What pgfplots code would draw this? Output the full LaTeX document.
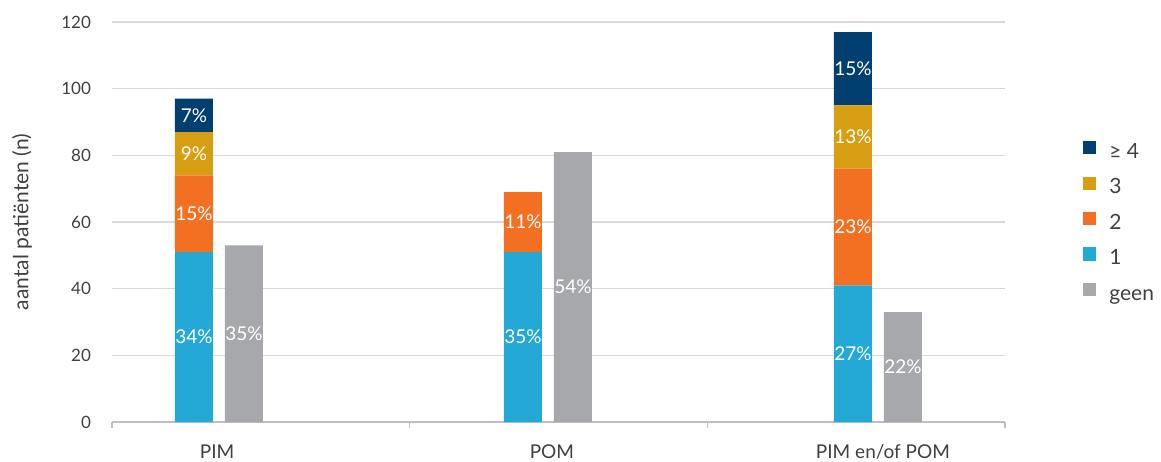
\documentclass[border=0pt]{standalone}
\usepackage{fontspec}
\setmainfont{Lato}
\usepackage{pgfplots}
\pgfplotsset{compat=1.18}

\definecolor{cfour}{HTML}{003F6F}
\definecolor{cthree}{HTML}{D89E13}
\definecolor{ctwo}{HTML}{F37022}
\definecolor{cone}{HTML}{24A9D7}
\definecolor{cgeen}{HTML}{A7A8AC}
\definecolor{gridgray}{HTML}{D9D9D9}
\definecolor{axisgray}{HTML}{BFBFBF}
\definecolor{txt}{HTML}{404040}

% bar positions: stacked bar and "geen" bar for PIM, POM, PIM en/of POM
\pgfplotstableread{
x      geen one two three four
0.2754 0    51  23  13    10
0.4434 53   0   0   0     0
1.3806 0    51  18  0     0
1.5485 81   0   0   0     0
2.4890 0    41  35  19    22
2.6570 33   0   0   0     0
}\bars

\pgfplotstableread{
x      y     lab
0.2754 25.5  34\%
0.2754 62.5  15\%
0.2754 80.5  9\%
0.2754 92.0  7\%
0.4434 26.5  35\%
1.3806 25.5  35\%
1.3806 60.0  11\%
1.5485 40.5  54\%
2.4890 20.5  27\%
2.4890 58.5  23\%
2.4890 85.5  13\%
2.4890 106.0 15\%
2.6570 16.5  22\%
}\labels

\begin{document}
\begin{tikzpicture}
\path[use as bounding box] (0pt,0pt) rectangle (580.5pt,230.5pt);
\begin{axis}[
  at={(56pt,19.5pt)}, anchor=south west,
  scale only axis, width=446.5pt, height=200pt,
  xmin=0, xmax=3, ymin=0, ymax=120,
  clip=false,
  ybar stacked, bar width=19pt,
  axis x line*=bottom, axis y line*=left,
  x axis line style={draw=axisgray, line width=0.6pt, -},
  y axis line style={draw=none},
  xtick={0,1,2,3}, xticklabels=\empty,
  tick align=outside, major tick length=3pt,
  xtick style={draw=axisgray, line width=0.6pt},
  ytick={0,20,...,120}, ytick style={draw=none},
  ymajorgrids, grid style={draw=gridgray, line width=0.6pt},
  yticklabel style={font=\fontsize{8.5}{10}\selectfont, text=txt, xshift=-4pt},
  /pgf/number format/assume math mode=true,
  ylabel={aantal patiënten (n)},
  every axis y label/.style={at={(axis description cs:-0.1008,0.5)}, rotate=90, anchor=center,
    font=\fontsize{10.5}{12}\selectfont, text=txt},
  reverse legend,
  legend style={at={(1.087,0.703)}, anchor=north west, draw=none, fill=none,
    inner sep=0pt, font=\fontsize{10.5}{12}\selectfont, text=txt,
    nodes={inner sep=0pt, text height=7pt, text depth=2pt},
    row sep=7.1pt, cells={anchor=west},
    /tikz/every odd column/.append style={column sep=6.5pt}},
  legend image code/.code={\fill[#1] (0pt,-0.5pt) rectangle (6.6pt,6.1pt);},
]
\addplot[fill=cgeen, draw=none] table[x=x, y=geen] {\bars};
\addlegendentry{geen}
\addplot[fill=cone, draw=none] table[x=x, y=one] {\bars};
\addlegendentry{1}
\addplot[fill=ctwo, draw=none] table[x=x, y=two] {\bars};
\addlegendentry{2}
\addplot[fill=cthree, draw=none] table[x=x, y=three] {\bars};
\addlegendentry{3}
\addplot[fill=cfour, draw=none] table[x=x, y=four] {\bars};
\addlegendentry{≥ 4}

\node[anchor=base, text=txt, font=\fontsize{9.5}{11}\selectfont] at (axis cs:0.353,0) [yshift=-18pt] {PIM};
\node[anchor=base, text=txt, font=\fontsize{9.5}{11}\selectfont] at (axis cs:1.478,0) [yshift=-18pt] {POM};
\node[anchor=base, text=txt, font=\fontsize{9.5}{11}\selectfont] at (axis cs:2.590,0) [yshift=-18pt] {PIM en/of POM};
\end{axis}

\begin{axis}[
  at={(56pt,19.5pt)}, anchor=south west,
  scale only axis, width=446.5pt, height=200pt,
  xmin=0, xmax=3, ymin=0, ymax=120,
  hide axis,
]
\addplot[only marks, mark=none, draw=none,
  nodes near coords, point meta=explicit symbolic,
  every node near coord/.append style={anchor=center, text=white,
    font=\fontsize{9.5}{11}\selectfont}]
  table[x=x, y=y, meta=lab] {\labels};
\end{axis}
\end{tikzpicture}
\end{document}
